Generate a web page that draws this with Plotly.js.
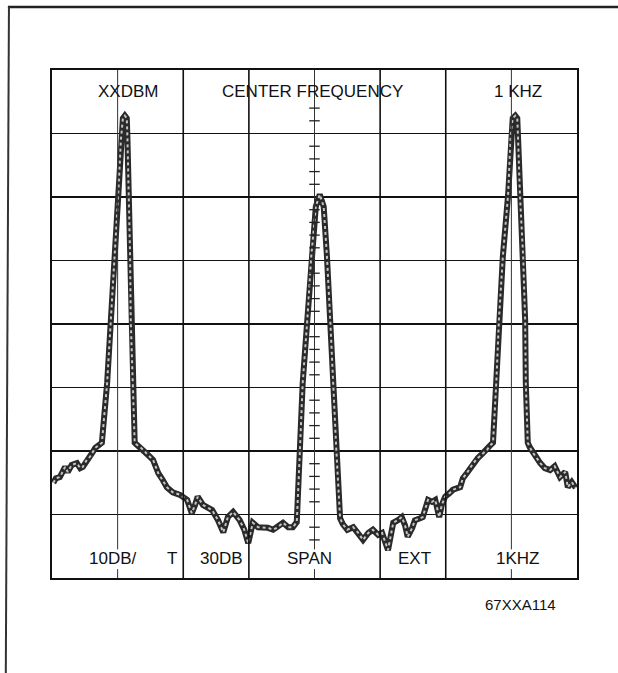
<!DOCTYPE html>
<html>
<head>
<meta charset="utf-8">
<script src="https://cdn.plot.ly/plotly-3.0.1.min.js"></script>
<style>html,body{margin:0;padding:0;background:#fff;}#chart{width:618px;height:673px;}</style>
</head>
<body>
<div id="chart"></div>
<script>
// Frequency offset from center (graticule divisions) and level (dB re. reference)
const freqDiv = [
  -3.98,-3.94,-3.88,-3.83,-3.80,-3.76,-3.70,-3.62,-3.57,-3.53,-3.47,-3.42,-3.38,-3.34,-3.30,
  -3.24,-3.16,-3.10,-3.04,-2.99,-2.95,-2.92,-2.89,-2.86,-2.85,-2.83,-2.81,-2.80,-2.77,-2.74,
  -2.72,-2.61,-2.54,-2.46,-2.38,-2.31,-2.25,-2.16,-2.05,-1.94,-1.87,-1.82,-1.78,-1.70,-1.62,
  -1.56,-1.47,-1.39,-1.32,-1.24,-1.14,-1.07,-1.01,-0.94,-0.86,-0.78,-0.71,-0.63,-0.56,-0.48,
  -0.40,-0.33,-0.27,-0.22,-0.18,-0.11,-0.05,0.02,0.08,0.14,0.19,0.24,0.28,0.33,
  0.39,0.43,0.50,0.59,0.66,0.74,0.82,0.89,0.97,1.03,1.12,1.20,1.27,1.33,1.38,1.42,1.49,1.53,
  1.61,1.65,1.73,1.79,1.84,1.90,1.94,1.99,2.06,2.11,2.22,2.26,2.32,2.37,2.42,2.49,2.57,2.63,
  2.67,2.72,2.77,2.81,2.87,2.95,2.99,3.02,3.06,3.09,3.10,3.13,3.18,3.21,3.22,3.25,3.28,3.33,
  3.44,3.51,3.59,3.66,3.74,3.82,3.86,3.92,3.98
];
const levelDb = [
  -65.0,-64.3,-64.1,-63.0,-62.5,-63.3,-62.2,-61.9,-62.7,-62.5,-61.4,-60.9,-60.2,-59.5,-59.2,
  -58.7,-49.3,-38.9,-29.4,-19.4,-11.0,-7.6,-7.2,-7.6,-11.0,-19.7,-29.4,-39.4,-49.3,-58.7,
  -58.9,-59.8,-60.6,-61.4,-63.5,-64.6,-65.7,-66.5,-66.9,-67.7,-69.8,-68.5,-67.2,-68.5,-69.0,
  -69.3,-70.9,-72.8,-70.4,-69.6,-70.9,-72.4,-74.5,-71.3,-72.0,-72.0,-72.1,-72.4,-72.0,-71.3,
  -72.0,-72.0,-71.2,-59.4,-49.3,-39.4,-29.4,-21.5,-19.6,-21.5,-29.4,-39.4,-49.3,-59.4,
  -70.6,-71.5,-72.4,-72.0,-72.8,-74.0,-72.9,-72.4,-73.2,-72.9,-75.6,-71.3,-70.9,-70.4,-71.7,-73.5,-72.1,-70.9,
  -70.6,-70.4,-67.7,-68.0,-67.7,-70.4,-68.5,-67.2,-66.6,-66.1,-65.7,-64.3,-63.5,-62.7,-61.9,-61.1,-60.3,-59.8,
  -59.2,-58.7,-49.3,-39.4,-29.4,-19.7,-10.2,-7.6,-7.2,-7.6,-10.2,-19.7,-29.4,-39.4,-49.3,-58.7,-59.4,-60.3,
  -61.9,-62.7,-63.0,-62.4,-64.1,-63.3,-65.7,-64.9,-65.8
];

const topLabels = ["XXDBM", "CENTER FREQUENCY", "1 KHZ"];
const topLabelX = [-2.84, -0.03, 3.10];
const bottomLabels = ["10DB/", "T", "30DB", "SPAN", "EXT", "1KHZ"];
const bottomLabelX = [-3.07, -2.17, -1.41, -0.07, 1.53, 3.10];
const figureId = "67XXA114";

const xDivs = [-3, -2, -1, 0, 1, 2, 3];
const peakLines = [-3, 0, 3];

const traces = [
  {x: freqDiv, y: levelDb, mode: "lines", type: "scatter",
   line: {color: "#2a2a2a", width: 6, shape: "linear"}, hoverinfo: "skip"},
  {x: freqDiv, y: levelDb, mode: "lines", type: "scatter",
   line: {color: "#c4c4c4", width: 2, dash: "dot"}, hoverinfo: "skip"}
];

const shapes = [];
xDivs.forEach(d => {
  const isPeak = peakLines.includes(d);
  if (isPeak) {
    shapes.push({type: "line", xref: "x", yref: "y", x0: d, x1: d, y0: 0, y1: -75.5,
                 line: {color: "#333", width: 1}});
    shapes.push({type: "line", xref: "x", yref: "y", x0: d, x1: d, y0: -78.6, y1: -80,
                 line: {color: "#333", width: 1}});
  } else {
    shapes.push({type: "line", xref: "x", yref: "y", x0: d, x1: d, y0: 0, y1: -80,
                 line: {color: "#111", width: 1.6}});
  }
});
// center graticule minor ticks every 2 dB
for (let v = -74; v <= -6; v += 2) {
  if (v % 10 === 0) continue;
  shapes.push({type: "line", xref: "x", yref: "y", x0: -0.08, x1: 0.08, y0: v, y1: v,
               line: {color: "#222", width: 1.3}});
}
// outer page frame
shapes.push({type: "line", xref: "paper", yref: "paper", x0: -0.084, x1: 1.08, y0: 1.124, y1: 1.124,
             line: {color: "#222", width: 2.5}});
shapes.push({type: "line", xref: "paper", yref: "paper", x0: -0.082, x1: -0.088, y0: 1.124, y1: -0.19,
             line: {color: "#333", width: 2}});

const font = {family: "Liberation Sans, Arial, sans-serif", size: 17, color: "#111"};
const annotations = [];
topLabels.forEach((t, i) => annotations.push({x: topLabelX[i], y: -3.4, xref: "x", yref: "y",
  text: t, showarrow: false, font: font, xanchor: "center", yanchor: "middle"}));
bottomLabels.forEach((t, i) => annotations.push({x: bottomLabelX[i], y: -77.0, xref: "x", yref: "y",
  text: t, showarrow: false, font: font, xanchor: "center", yanchor: "middle"}));
annotations.push({x: 0.893, y: -0.053, xref: "paper", yref: "paper", text: figureId,
  showarrow: false, font: {family: "Liberation Sans, Arial, sans-serif", size: 15, color: "#111"},
  xanchor: "center", yanchor: "middle"});

const layout = {
  width: 618, height: 673,
  margin: {l: 52, r: 41, t: 70, b: 95},
  paper_bgcolor: "#fff", plot_bgcolor: "#fff",
  showlegend: false,
  xaxis: {range: [-4, 4], showgrid: false, zeroline: false, showticklabels: false, ticks: "",
          showline: true, mirror: true, linecolor: "#111", linewidth: 1.6},
  yaxis: {range: [-80, 0], dtick: 10, showgrid: true, gridcolor: "#111", gridwidth: 1.6,
          zeroline: false, showticklabels: false, ticks: "",
          showline: true, mirror: true, linecolor: "#111", linewidth: 1.6},
  shapes: shapes,
  annotations: annotations
};

Plotly.newPlot("chart", traces, layout, {displayModeBar: false, staticPlot: true});
</script>
</body>
</html>
